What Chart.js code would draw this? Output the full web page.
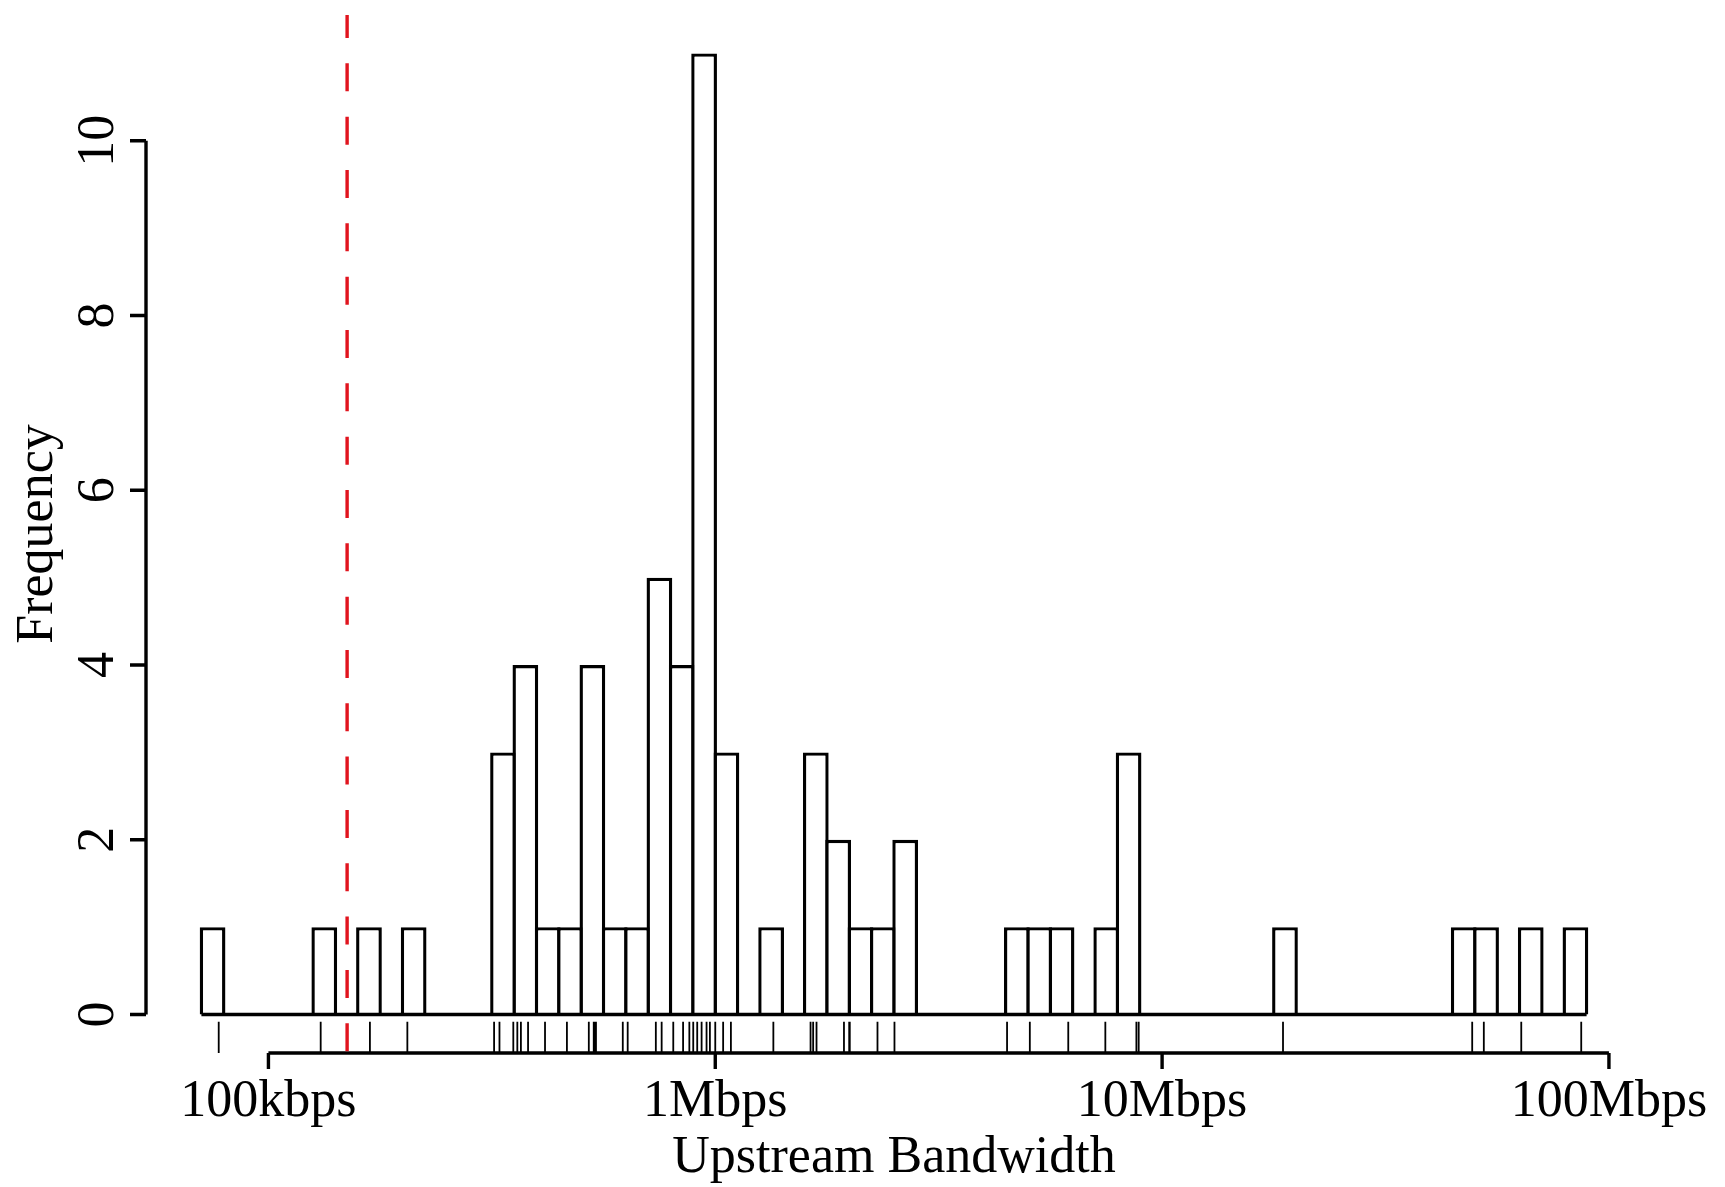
<!DOCTYPE html>
<html>
<head>
<meta charset="utf-8">
<script src="https://cdn.jsdelivr.net/npm/chart.js@4.4.1/dist/chart.umd.min.js"></script>
<style>
  html, body { margin: 0; padding: 0; background: #fff; }
  #wrap { width: 1725px; height: 1187px; }
</style>
</head>
<body>
<div id="wrap"><canvas id="histChart" width="1725" height="1187"></canvas></div>
<script>
// histogram of upstream bandwidth, bins are 0.05 wide in log10(bps)
const binWidth = 0.05;
const binLow = [4.85, 5.10, 5.20, 5.30,
                5.50, 5.55, 5.60, 5.65, 5.70, 5.75, 5.80, 5.85, 5.90, 5.95, 6.00,
                6.10, 6.20, 6.25, 6.30, 6.35, 6.40,
                6.65, 6.70, 6.75, 6.85, 6.90,
                7.25, 7.65, 7.70, 7.80, 7.90];
const freq = [1, 1, 1, 1,
              3, 4, 1, 1, 4, 1, 1, 5, 4, 11, 3,
              1, 3, 2, 1, 1, 2,
              1, 1, 1, 1, 3,
              1, 1, 1, 1, 1];

// single measurements in kbps (the rug under the bars)
const rugKbps = [77.4, 130.9, 168.7, 204.6, 319.9, 328.9, 353.2, 360.6, 360.6, 367.3,
                 381.1, 415.9, 465.6, 521.2, 534.6, 538.3, 540.8, 620.9, 636.8, 736.2,
                 736.2, 758.6, 758.6, 758.6, 805.4, 847.2, 847.2, 875.0, 892.7, 911.2,
                 932.0, 956.1, 972.7, 972.7, 1000, 1000, 1000, 1000, 1000, 1041.4,
                 1041.4, 1083.9, 1349, 1634, 1656, 1685, 1941, 1994, 2000, 2307,
                 2518, 2518, 4498, 5058, 6166, 7464, 8759, 8759, 8864, 18646,
                 49431, 52481, 63649, 86696];
const thresholdKbps = 150;

const xTickValues = [5, 6, 7, 8];   // log10(bps)
const xTickLabels = ['100kbps', '1Mbps', '10Mbps', '100Mbps'];
const yTickValues = [0, 2, 4, 6, 8, 10];
const xTitle = 'Upstream Bandwidth';
const yTitle = 'Frequency';

const FONT = '52px "Liberation Serif", "Times New Roman", serif';
const LW = 3.4;

const rStyleAxes = {
    id: 'rStyleAxes',
    afterDraw: function (chart) {
        const ctx = chart.ctx;
        const a = chart.chartArea;
        const x = chart.scales.x, y = chart.scales.y;
        ctx.save();
        ctx.strokeStyle = '#000';
        ctx.fillStyle = '#000';

        // rug
        ctx.lineWidth = 1.8;
        const rugLen = 0.03 * (a.bottom - a.top);
        ctx.beginPath();
        rugKbps.forEach(v => {
            const px = x.getPixelForValue(Math.log10(v * 1000));
            ctx.moveTo(px, a.bottom);
            ctx.lineTo(px, a.bottom - rugLen);
        });
        ctx.stroke();

        // y axis
        ctx.lineWidth = LW;
        ctx.beginPath();
        ctx.moveTo(a.left, y.getPixelForValue(yTickValues[0]));
        ctx.lineTo(a.left, y.getPixelForValue(yTickValues[yTickValues.length - 1]));
        yTickValues.forEach(v => {
            const py = y.getPixelForValue(v);
            ctx.moveTo(a.left, py);
            ctx.lineTo(a.left - 16, py);
        });
        // x axis
        ctx.moveTo(x.getPixelForValue(xTickValues[0]), a.bottom);
        ctx.lineTo(x.getPixelForValue(xTickValues[xTickValues.length - 1]), a.bottom);
        xTickValues.forEach(v => {
            const px = x.getPixelForValue(v);
            ctx.moveTo(px, a.bottom);
            ctx.lineTo(px, a.bottom + 16);
        });
        ctx.stroke();

        ctx.font = FONT;
        ctx.textAlign = 'center';
        ctx.textBaseline = 'alphabetic';
        xTickValues.forEach((v, i) => {
            ctx.fillText(xTickLabels[i], x.getPixelForValue(v), 1116);
        });
        ctx.fillText(xTitle, (a.left + a.right) / 2, 1172);

        yTickValues.forEach(v => {
            ctx.save();
            ctx.translate(113, y.getPixelForValue(v));
            ctx.rotate(-Math.PI / 2);
            ctx.fillText(String(v), 0, 0);
            ctx.restore();
        });
        ctx.save();
        ctx.translate(52, (a.top + a.bottom) / 2);
        ctx.rotate(-Math.PI / 2);
        ctx.fillText(yTitle, 0, 0);
        ctx.restore();

        // threshold line
        const tx = x.getPixelForValue(Math.log10(thresholdKbps * 1000));
        ctx.strokeStyle = 'rgb(225, 20, 30)';
        ctx.lineWidth = LW;
        ctx.setLineDash([28, 25.33]);
        ctx.lineDashOffset = 5;
        ctx.beginPath();
        ctx.moveTo(tx, a.top);
        ctx.lineTo(tx, a.bottom);
        ctx.stroke();
        ctx.restore();
    }
};

let ctx = document.getElementById('histChart').getContext('2d');
new Chart(ctx, {
    type: 'bar',
    data: {
        datasets: [{
            type: 'bar',
            order: 1,
            data: binLow.map((b, i) => ({ x: b + binWidth / 2, y: freq[i] })),
            backgroundColor: '#fff',
            borderColor: '#000',
            borderWidth: { top: LW, right: LW, bottom: 0, left: LW },
            borderSkipped: false,
            barPercentage: 1.152, // a bit wider so neighbouring borders overlap on the bin edge
            categoryPercentage: 1
        }, {
            type: 'line',
            order: 0, // baseline drawn on top of the bars
            data: [{ x: binLow[0], y: 0 }, { x: binLow[binLow.length - 1] + binWidth, y: 0 }],
            borderColor: '#000',
            borderWidth: LW,
            pointRadius: 0
        }]
    },
    options: {
        responsive: false,
        animation: false,
        layout: { padding: { left: 146, right: 83, top: 15, bottom: 134 } },
        scales: {
            x: { type: 'linear', min: 4.726, max: 8.074, offset: false, display: false },
            y: { type: 'linear', min: -0.44, max: 11.44, display: false }
        },
        plugins: {
            legend: { display: false },
            tooltip: { enabled: false }
        }
    },
    plugins: [rStyleAxes]
});
</script>
</body>
</html>
